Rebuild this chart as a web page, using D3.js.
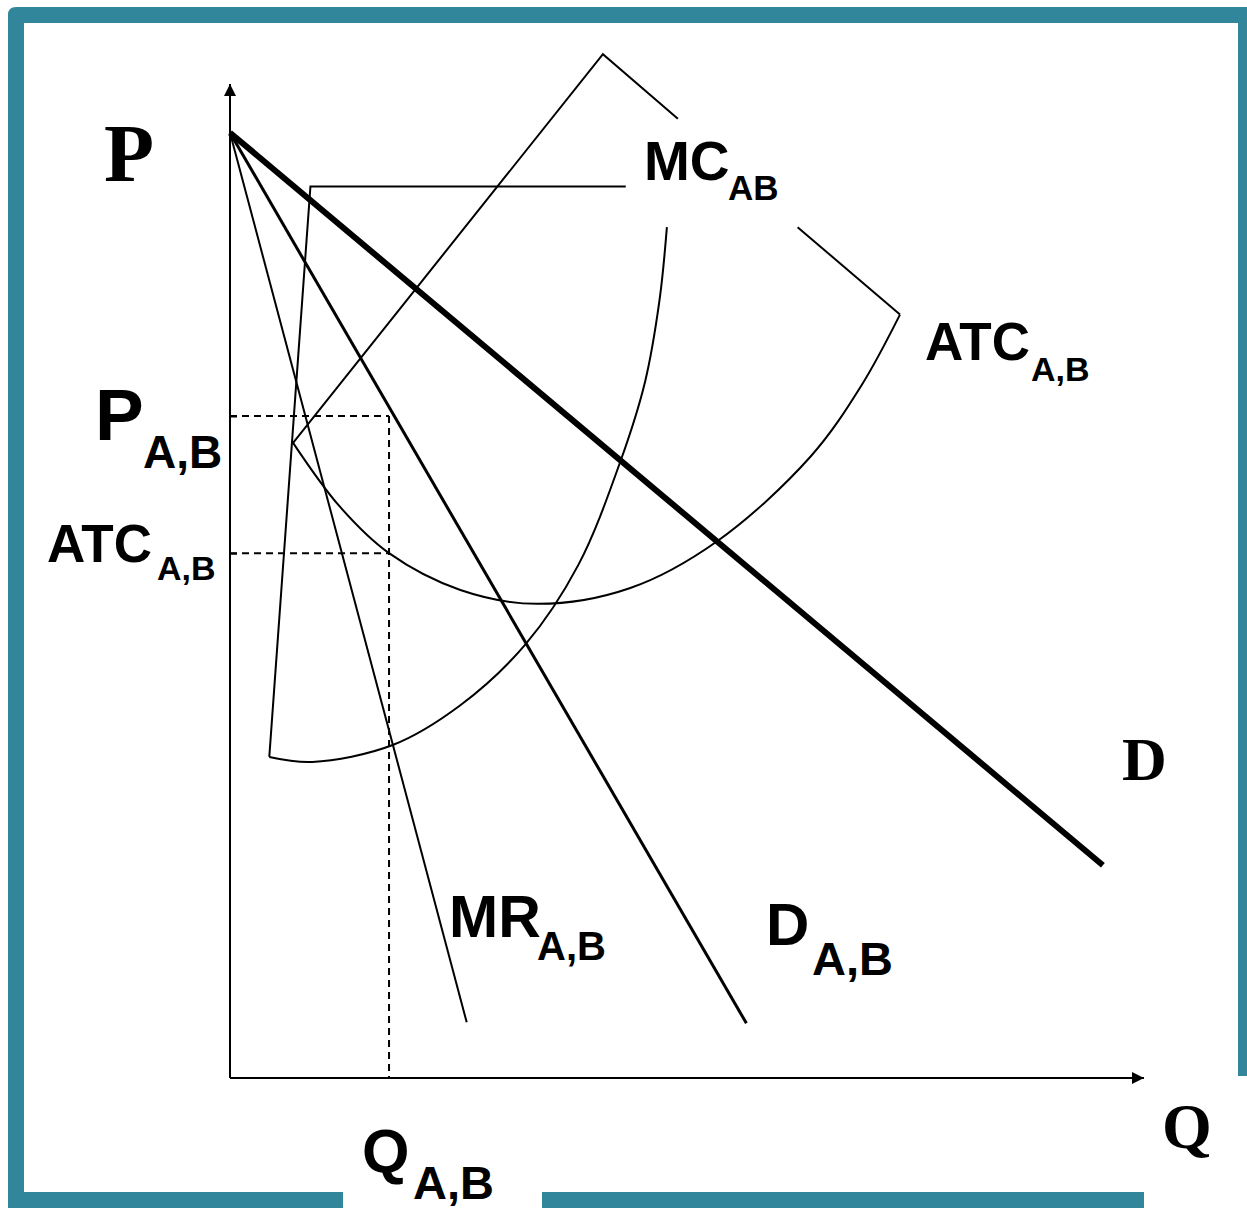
<!DOCTYPE html>
<html>
<head>
<meta charset="utf-8">
<script src="https://cdn.jsdelivr.net/npm/d3@7"></script>
<style>
  body { margin: 0; background: #fff; }
  text { fill: #000; font-weight: bold; }
  .sans { font-family: "Liberation Sans", Arial, sans-serif; }
  .serif { font-family: "Liberation Serif", "Times New Roman", serif; }
</style>
</head>
<body>
<div id="graph"></div>
<script>
// values in chart units (Q: 0-100, P: 0-100)
let pMax = 95.1;

let demand = [[0, pMax], [95.5, 21.4]];
let demandAB = [[0, pMax], [56.5, 5.5]];
let mrAB = [[0, pMax], [25.9, 5.6]];

let mcCurve = [[4.3, 32.3], [9.0, 31.8], [17.8, 33.5], [25.2, 37.5], [32.3, 43.6],
  [38.1, 51.6], [42.7, 62.0], [45.4, 70.0], [47.0, 78.3], [47.8, 85.6]];
let mcFrame = [[4.3, 32.3], [8.8, 89.7], [43.3, 89.7]];

let atcCurve = [[6.9, 63.9], [12.0, 57.5], [17.4, 52.8], [25.2, 49.1], [33.6, 47.7],
  [43.8, 49.3], [53.3, 54.0], [63.5, 62.5], [69.1, 69.7], [73.3, 76.8]];
let atcFrameLeft = [[6.9, 63.9], [40.8, 103.0], [49.0, 96.5]];
let atcFrameRight = [[73.3, 76.8], [62.1, 85.6]];

let priceAB = 66.6;
let costAB = 52.8;
let qtyAB = 17.4;

let svg = d3.select("#graph").append("svg")
  .attr("width", 1247)
  .attr("height", 1208);

let xScale = d3.scaleLinear().domain([0, 100]).range([230, 1144]);
let yScale = d3.scaleLinear().domain([0, 100]).range([1078, 84]);

let teal = "#31869b";

// frame
svg.append("path")
  .attr("fill", teal)
  .attr("d", "M8,1208 L8,15 Q8,7 16,7 L1247,7 L1247,1076 L1238,1076 L1238,23 L24,23 L24,1208 Z");
svg.append("rect").attr("fill", teal).attr("x", 8).attr("y", 1192).attr("width", 335).attr("height", 16);
svg.append("rect").attr("fill", teal).attr("x", 542).attr("y", 1192).attr("width", 602).attr("height", 16);

// arrow marker
svg.append("defs").append("marker")
  .attr("id", "arrow")
  .attr("viewBox", "0 0 10 10")
  .attr("refX", 10).attr("refY", 5)
  .attr("markerWidth", 7).attr("markerHeight", 6)
  .attr("markerUnits", "strokeWidth")
  .attr("orient", "auto")
  .append("path").attr("d", "M0,0 L10,5 L0,10 Z").attr("fill", "#000");

let line = d3.line()
  .x(function (d) { return xScale(d[0]); })
  .y(function (d) { return yScale(d[1]); });

let curve = d3.line()
  .x(function (d) { return xScale(d[0]); })
  .y(function (d) { return yScale(d[1]); })
  .curve(d3.curveCatmullRom.alpha(0.5));

// axes
svg.append("line")
  .attr("x1", xScale(0)).attr("y1", yScale(0))
  .attr("x2", xScale(0)).attr("y2", yScale(100))
  .attr("stroke", "#000").attr("stroke-width", 2)
  .attr("marker-end", "url(#arrow)");
svg.append("line")
  .attr("x1", xScale(0)).attr("y1", yScale(0))
  .attr("x2", xScale(100)).attr("y2", yScale(0))
  .attr("stroke", "#000").attr("stroke-width", 2)
  .attr("marker-end", "url(#arrow)");

let yAxis = d3.axisLeft(yScale)
  .tickValues([costAB, priceAB])
  .tickSizeInner(-7)
  .tickSizeOuter(0)
  .tickFormat("");
let yg = svg.append("g")
  .attr("transform", "translate(" + xScale(0) + ",0)")
  .call(yAxis);
yg.select(".domain").remove();
yg.selectAll(".tick line").attr("stroke-width", 2);

// dashed guides
let dash = [
  [[0, priceAB], [qtyAB, priceAB]],
  [[0, costAB], [qtyAB, costAB]],
  [[qtyAB, priceAB], [qtyAB, 0]]
];
svg.selectAll(".guide")
  .data(dash)
  .enter()
  .append("path")
  .attr("class", "guide")
  .attr("d", line)
  .attr("fill", "none")
  .attr("stroke", "#000")
  .attr("stroke-width", 2)
  .attr("stroke-dasharray", "7,5");

// cost curves
[mcFrame, atcFrameLeft, atcFrameRight].forEach(function (d) {
  svg.append("path").attr("d", line(d))
    .attr("fill", "none").attr("stroke", "#000").attr("stroke-width", 2);
});
[mcCurve, atcCurve].forEach(function (d) {
  svg.append("path").attr("d", curve(d))
    .attr("fill", "none").attr("stroke", "#000").attr("stroke-width", 2);
});

// demand lines
svg.append("path").attr("d", line(mrAB))
  .attr("fill", "none").attr("stroke", "#000").attr("stroke-width", 2);
svg.append("path").attr("d", line(demandAB))
  .attr("fill", "none").attr("stroke", "#000").attr("stroke-width", 3);
svg.append("path").attr("d", line(demand))
  .attr("fill", "none").attr("stroke", "#000").attr("stroke-width", 6);

// labels
function label(cls, txt, x, y, size) {
  svg.append("text").attr("class", cls)
    .attr("x", x).attr("y", y)
    .attr("font-size", size)
    .text(txt);
}

label("serif", "P", 104, 181, 82);
label("serif", "Q", 1162, 1148, 64);
label("serif", "D", 1122, 780, 62);

label("sans", "MC", 644, 180, 55);
label("sans", "AB", 728, 200, 35);

label("sans", "ATC", 925, 360, 53);
label("sans", "A,B", 1031, 381, 34);

label("sans", "P", 95, 440, 73);
label("sans", "A,B", 143, 468, 46);

label("sans", "ATC", 47, 562, 53);
label("sans", "A,B", 157, 580, 34);

label("sans", "MR", 449, 937, 59);
label("sans", "A,B", 537, 960, 40);

label("sans", "D", 766, 945, 60);
label("sans", "A,B", 812, 975, 47);

label("sans", "Q", 362, 1172, 61);
label("sans", "A,B", 413, 1199, 47);
</script>
</body>
</html>
